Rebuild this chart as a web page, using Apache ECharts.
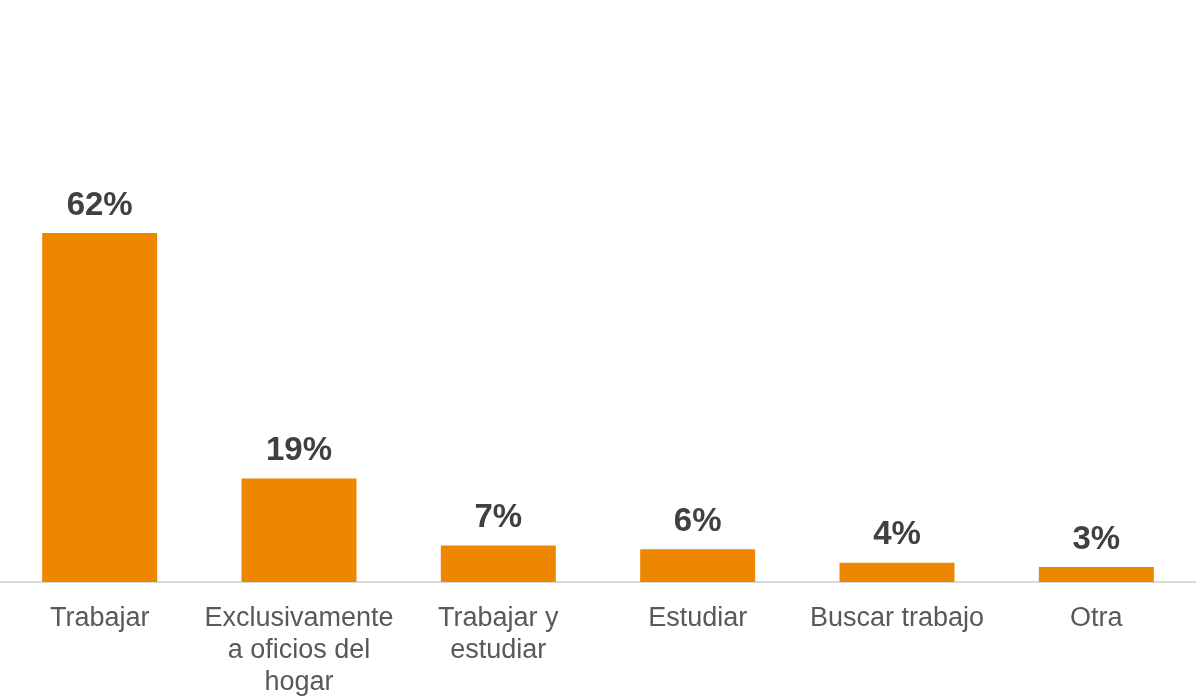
<!DOCTYPE html>
<html>
<head>
<meta charset="utf-8">
<script src="https://cdn.jsdelivr.net/npm/echarts@6/dist/echarts.min.js"></script>
<style>
	html, body { margin: 0; padding: 0; background: #fff; }
	#chart { width: 1196px; height: 699px; }
</style>
</head>
<body>
<div id="chart"></div>
<script>
	// categorias del eje x
	var categorias = ['Trabajar', 'Exclusivamente\na oficios del\nhogar', 'Trabajar y\nestudiar', 'Estudiar', 'Buscar trabajo', 'Otra']
	var valores = [62, 18.4, 6.5, 5.8, 3.4, 2.65]
	// etiquetas que muestra el grafico
	var etiquetas = ['62%', '19%', '7%', '6%', '4%', '3%']

	var chart = echarts.init(document.getElementById('chart'), null, { renderer: 'canvas' })
	chart.setOption({
		backgroundColor: '#fff',
		animation: false,
		grid: {
			left: -3,
			right: -1,
			top: 188,
			bottom: 116,
			containLabel: false
		},
		xAxis: {
			type: 'category',
			data: categorias,
			axisTick: { show: false },
			axisLine: {
				lineStyle: { color: '#D9D9D9', width: 2 }
			},
			axisLabel: {
				interval: 0,
				color: '#595959',
				fontFamily: 'Liberation Sans, Arial, sans-serif',
				fontSize: 27,
				lineHeight: 32,
				margin: 21
			}
		},
		yAxis: {
			type: 'value',
			min: 0,
			max: 70,
			show: false,
			splitLine: { show: false }
		},
		series: [{
			type: 'bar',
			data: valores,
			barWidth: 115,
			itemStyle: { color: '#EE8700' },
			label: {
				show: true,
				position: 'top',
				distance: 11,
				color: '#404040',
				fontFamily: 'Liberation Sans, Arial, sans-serif',
				fontWeight: 'bold',
				fontSize: 33,
				formatter: function (p) {
					return etiquetas[p.dataIndex]
				}
			}
		}]
	})
</script>
</body>
</html>
